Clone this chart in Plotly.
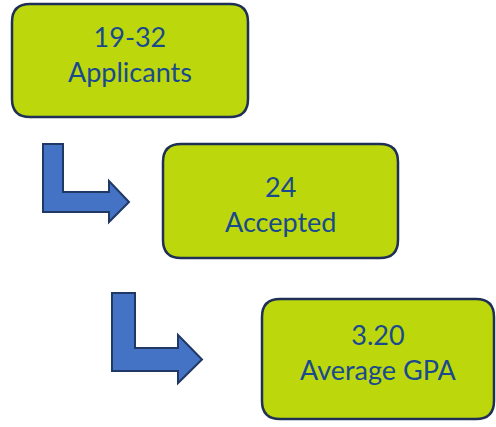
import plotly.graph_objects as go

# Data
values = ["19-32", "24", "3.20"]
labels = ["Applicants", "Accepted", "Average GPA"]

# Layout geometry (pixel space of the screenshot, y downward)
W, H = 496, 427
boxes = [(12, 4, 248, 117), (163, 144, 398, 258), (262, 299, 494, 419)]
text_y = [54, 204, 352]  # vertical centre of each box's text block
arrows = [
    dict(x0=43, x1=63, ytop=144, ybar0=192, ybar1=212, hx=109, hy0=181, hy1=222, tip=129),
    dict(x0=112, x1=135, ytop=293, ybar0=348, ybar1=371, hx=178, hy0=335, hy1=383, tip=202),
]

BOX_FILL = "#BCD80C"
BOX_LINE = "#1F2F55"
TEXT_COLOR = "#1A4A8E"
ARROW_FILL = "#4472C4"
ARROW_LINE = "#1F3864"


def rounded_rect(x0, y0, x1, y1, r=18):
    return (f"M {x0+r},{y0} L {x1-r},{y0} Q {x1},{y0} {x1},{y0+r} "
            f"L {x1},{y1-r} Q {x1},{y1} {x1-r},{y1} L {x0+r},{y1} "
            f"Q {x0},{y1} {x0},{y1-r} L {x0},{y0+r} Q {x0},{y0} {x0+r},{y0} Z")


def bent_arrow(a):
    tipy = (a["ybar0"] + a["ybar1"]) / 2
    pts = [(a["x0"], a["ytop"]), (a["x1"], a["ytop"]), (a["x1"], a["ybar0"]),
           (a["hx"], a["ybar0"]), (a["hx"], a["hy0"]), (a["tip"], tipy),
           (a["hx"], a["hy1"]), (a["hx"], a["ybar1"]), (a["x0"], a["ybar1"])]
    return "M " + " L ".join(f"{x},{y}" for x, y in pts) + " Z"


fig = go.Figure()
shapes = []
annotations = []
for (x0, y0, x1, y1), ty, v, lab in zip(boxes, text_y, values, labels):
    shapes.append(dict(type="path", path=rounded_rect(x0, y0, x1, y1), xref="x", yref="y",
                       fillcolor=BOX_FILL, line=dict(color=BOX_LINE, width=2.5)))
    annotations.append(dict(x=(x0 + x1) / 2, y=ty, xref="x", yref="y",
                            text=f"{v}<br>{lab}", showarrow=False, align="center",
                            font=dict(family="Lato", size=27, color=TEXT_COLOR)))
for a in arrows:
    shapes.append(dict(type="path", path=bent_arrow(a), xref="x", yref="y",
                       fillcolor=ARROW_FILL, line=dict(color=ARROW_LINE, width=2)))

fig.update_layout(
    width=W, height=H,
    margin=dict(l=0, r=0, t=0, b=0),
    paper_bgcolor="white", plot_bgcolor="white",
    xaxis=dict(range=[0, W], visible=False, fixedrange=True),
    yaxis=dict(range=[H, 0], visible=False, fixedrange=True),
    shapes=shapes, annotations=annotations, showlegend=False,
)
fig.write_html("out.html", config={"displayModeBar": False},
               post_script="document.body.style.margin='0';")
